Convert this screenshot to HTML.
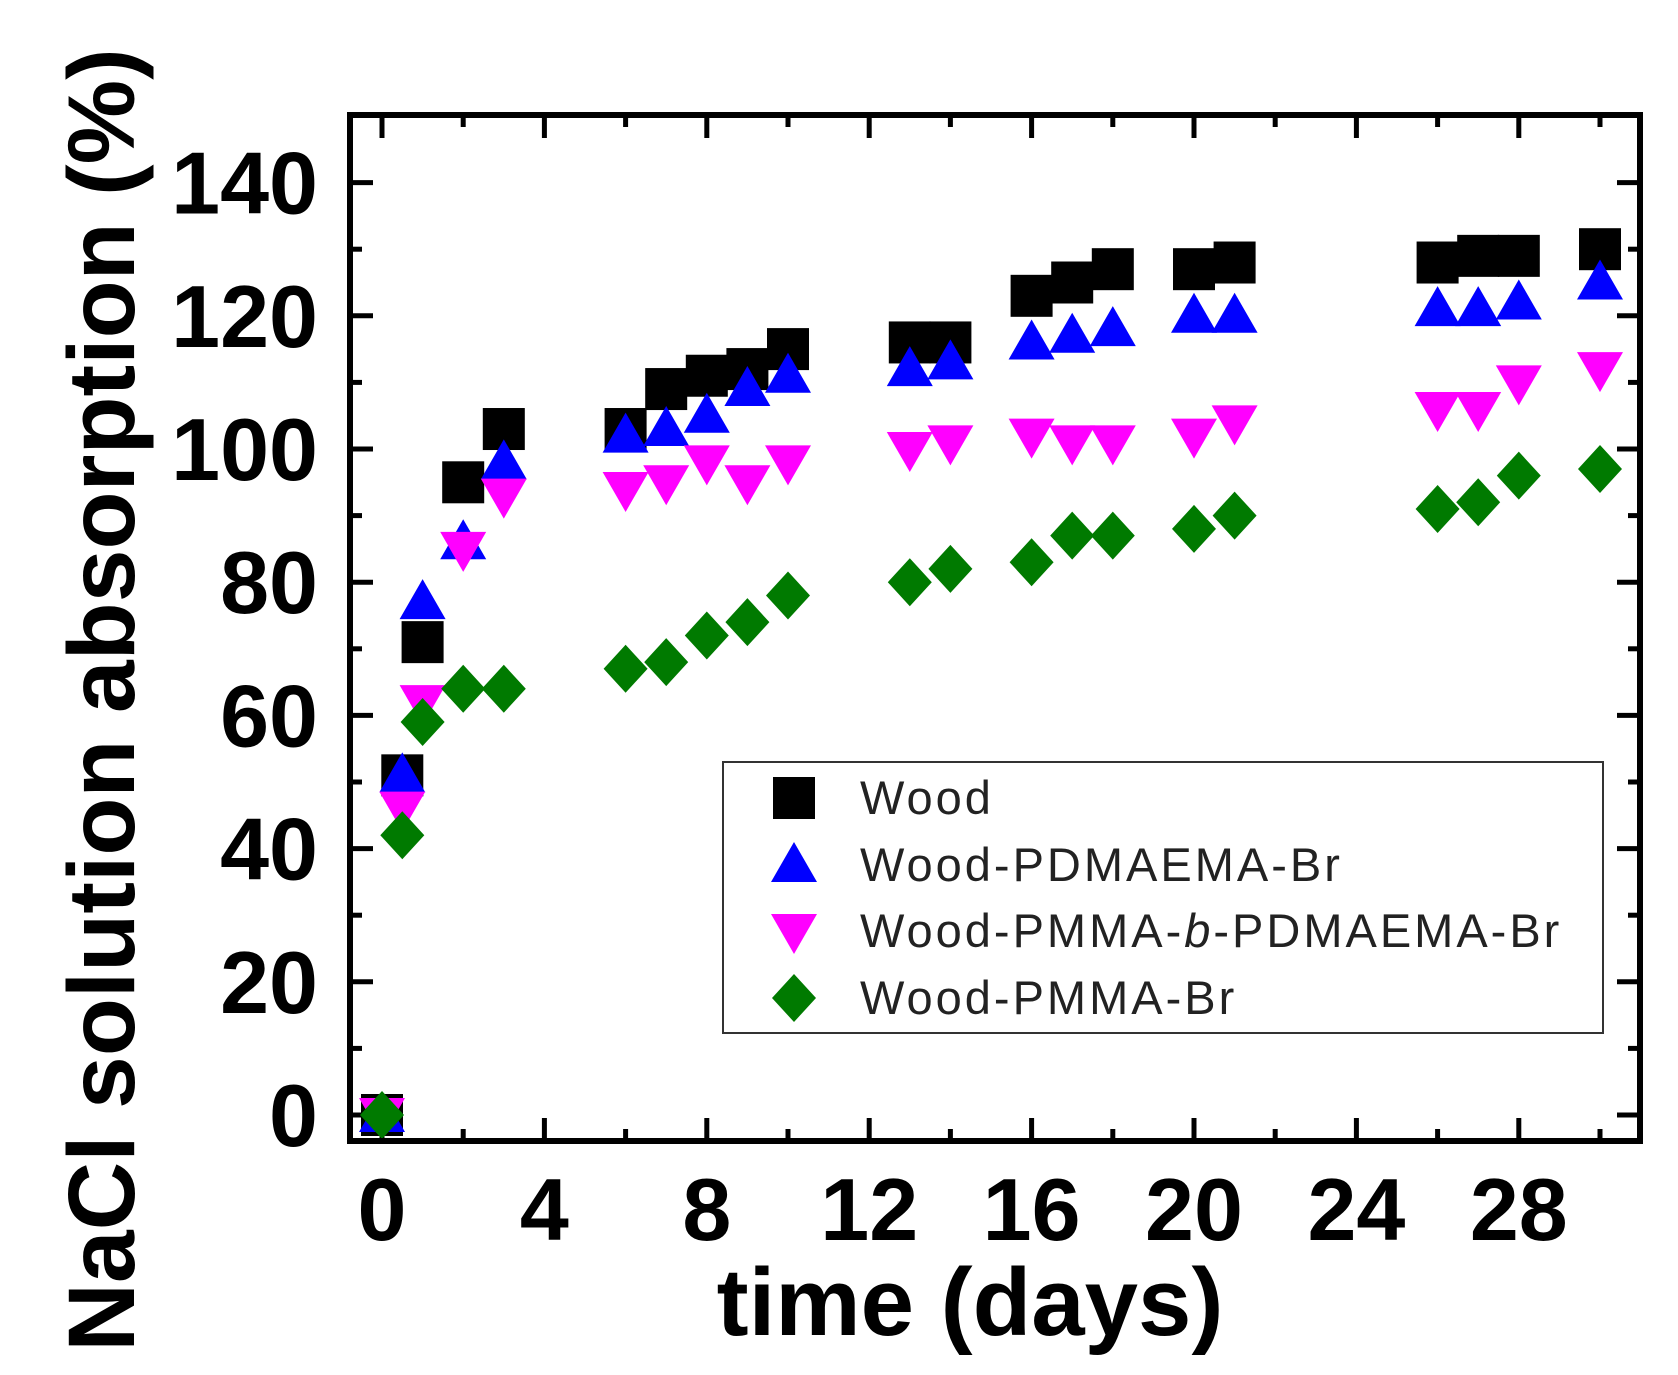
<!DOCTYPE html>
<html><head><meta charset="utf-8"><style>
html,body{margin:0;padding:0;background:#fff;}
svg{display:block;font-family:"Liberation Sans",Arial,sans-serif;}
</style></head><body>
<svg id="s" width="1678" height="1375" viewBox="0 0 1678 1375" xmlns="http://www.w3.org/2000/svg">
<rect width="1678" height="1375" fill="#fff"/>
<g id="ticks" stroke="#000" stroke-width="5"></g>
<g id="pts"></g>
<rect x="350" y="115" width="1290" height="1026" fill="none" stroke="#000" stroke-width="6"/>
<g id="lbl" font-weight="bold" font-size="88" fill="#000"></g>
<text x="970" y="1335" font-weight="bold" font-size="96" text-anchor="middle">time (days)</text>
<text transform="translate(134,700) rotate(-90)" font-weight="bold" font-size="95" text-anchor="middle">NaCl solution absorption (%)</text>
<rect x="723" y="762" width="880" height="271" fill="#fff" stroke="#333" stroke-width="2"/>
<g id="leg" font-size="47" fill="#222" letter-spacing="3"></g>
</svg>
<script>
var NS="http://www.w3.org/2000/svg";
function el(p,t,a,txt){var e=document.createElementNS(NS,t);for(var k in a)e.setAttribute(k,a[k]);if(txt!=null)e.textContent=txt;document.getElementById(p).appendChild(e);return e;}
var L=350,R=1640,T=115,B=1141;
function X(d){return 382+d*40.6;}
function Y(v){return 1115-v*6.66;}
for(var v=0;v<=150;v+=10){var y=Y(v);if(y<T+3)continue;var len=(v%20==0)?23:12;
el('ticks','line',{x1:L,y1:y,x2:L+len,y2:y});el('ticks','line',{x1:R,y1:y,x2:R-len,y2:y});
if(v%20==0)el('lbl','text',{x:318,y:y+31,'text-anchor':'end'},v);}
for(var d=0;d<=31;d+=2){var x=X(d);if(x>R-3)continue;var len=(d%4==0)?23:12;
el('ticks','line',{x1:x,y1:B,x2:x,y2:B-len});el('ticks','line',{x1:x,y1:T,x2:x,y2:T+len});
if(d%4==0)el('lbl','text',{x:x,y:1240,'text-anchor':'middle'},d);}
var days=[0,0.5,1,2,3,6,7,8,9,10,13,14,16,17,18,20,21,26,27,28,30];
var S=[
[0,51,71,95,103,103,109,111,112,115,116,116,123,125,127,127,128,128,129,129,130],
[0,51,77,86,98,102,103,105,109,111,112,113,116,117,118,120,120,121,121,122,125],
[0,46,62,85,93,94,95,98,95,98,100,101,102,101,101,102,104,106,106,110,112],
[0,42,59,64,64,67,68,72,74,78,80,82,83,87,87,88,90,91,92,96,97]];
var C=['#000','#0000ff','#ff00ff','#007a00'];
function mk(p,k,x,y){var r=21;
if(k==0)el(p,'rect',{x:x-r,y:y-r,width:2*r,height:2*r,fill:C[0]});
else if(k==1)el(p,'polygon',{points:(x)+','+(y-23)+' '+(x+23)+','+(y+17)+' '+(x-23)+','+(y+17),fill:C[1]});
else if(k==2)el(p,'polygon',{points:(x)+','+(y+23)+' '+(x+23)+','+(y-17)+' '+(x-23)+','+(y-17),fill:C[2]});
else el(p,'polygon',{points:x+','+(y-24)+' '+(x+22)+','+y+' '+x+','+(y+24)+' '+(x-22)+','+y,fill:C[3]});}
for(var k=0;k<4;k++)for(var i=0;i<days.length;i++)mk('pts',k,X(days[i]),Y(S[k][i]));
var names=['Wood','Wood-PDMAEMA-Br',null,'Wood-PMMA-Br'];
var ly=[798,865,931,998];
for(var k=0;k<4;k++){mk('leg',k,794,ly[k]);
if(names[k])el('leg','text',{x:860,y:ly[k]+16},names[k]);
else{var t=el('leg','text',{x:860,y:ly[k]+16});t.innerHTML='Wood-PMMA-<tspan font-style="italic">b</tspan>-PDMAEMA-Br';}}
</script>
</body></html>
